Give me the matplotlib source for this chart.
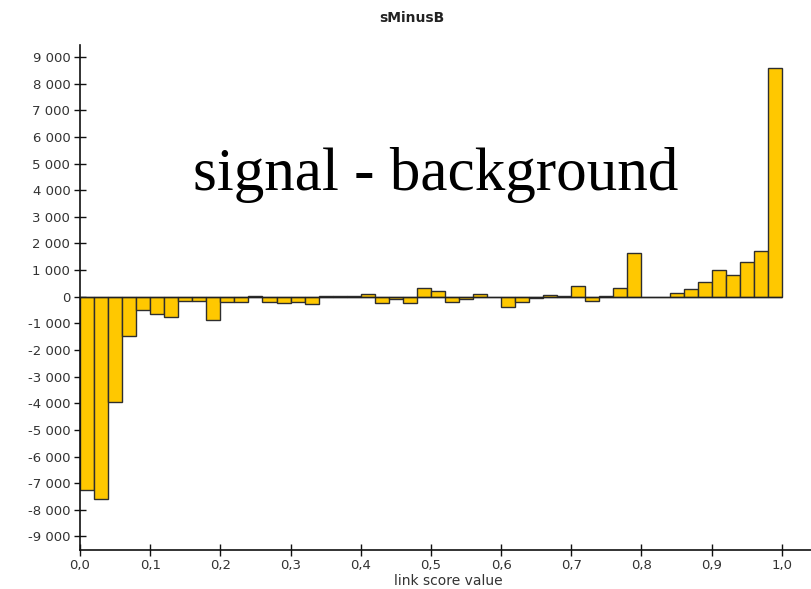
import matplotlib
matplotlib.use("Agg")
import matplotlib.pyplot as plt
import numpy as np
from matplotlib.ticker import FuncFormatter

bin_edges_start = 0.0
bin_width = 0.02
values = [
    -7275, -7590, -3960, -1460, -500, -650, -775, -175, -175, -885,
    -200, -210, 25, -190, -220, -200, -260, 15, 15, 20,
    100, -250, -85, -250, 310, 225, -190, -80, 100, -20,
    -400, -190, -30, 75, 40, 390, -150, 30, 315, 1640,
    -20, -20, 150, 275, 540, 990, 815, 1290, 1725, 8600,
]
title = "sMinusB"
xlabel = "link score value"
overlay_text = "signal - background"
yticks = list(range(-9000, 10000, 1000))
xticks = [round(0.1 * i, 1) for i in range(11)]

fig = plt.figure(figsize=(8.12, 5.89), dpi=100)
ax = fig.add_axes([80 / 812, 39.5 / 589, 1 - 80 / 812, (549.5 - 45) / 589])

lefts = bin_edges_start + bin_width * np.arange(len(values))
ax.bar(lefts, values, width=bin_width, align="edge", color="#FFC800",
       edgecolor="#2e2e2e", linewidth=1.0, zorder=2)
ax.hlines(0, 0, 1.0, color="#222222", linewidth=1.0, zorder=3)

ax.set_xlim(0, 1.043)
ax.set_ylim(-9490, 9450)

ax.set_xticks(xticks)
ax.set_yticks(yticks)
ax.xaxis.set_major_formatter(FuncFormatter(lambda v, p: f"{v:.1f}".replace(".", ",")))

def yfmt(v, p):
    v = int(round(v))
    s = f"{abs(v):,}".replace(",", " ")
    return ("-" if v < 0 else "") + s

ax.yaxis.set_major_formatter(FuncFormatter(yfmt))

for s in ["top", "right"]:
    ax.spines[s].set_visible(False)
for s in ["left", "bottom"]:
    ax.spines[s].set_color("#111111")
    ax.spines[s].set_linewidth(1.2)

ax.tick_params(axis="both", direction="inout", length=8, width=1, color="#111111",
               labelsize=9.5, labelcolor="#333333")
ax.tick_params(axis="y", pad=3)
ax.tick_params(axis="x", pad=2.5)

fig.text(448 / 812, 1 - 581 / 589, xlabel, ha="center", va="center",
         fontsize=10, color="#333333")
fig.text(412 / 812, 1 - 18 / 589, title, ha="center", va="center", fontsize=10,
         fontweight="bold", color="#222222")
fig.text(436 / 812, 1 - 190 / 589, overlay_text, ha="center", va="baseline",
         fontsize=44, family="Liberation Serif", color="black")

fig.savefig("out.png", dpi=100)
